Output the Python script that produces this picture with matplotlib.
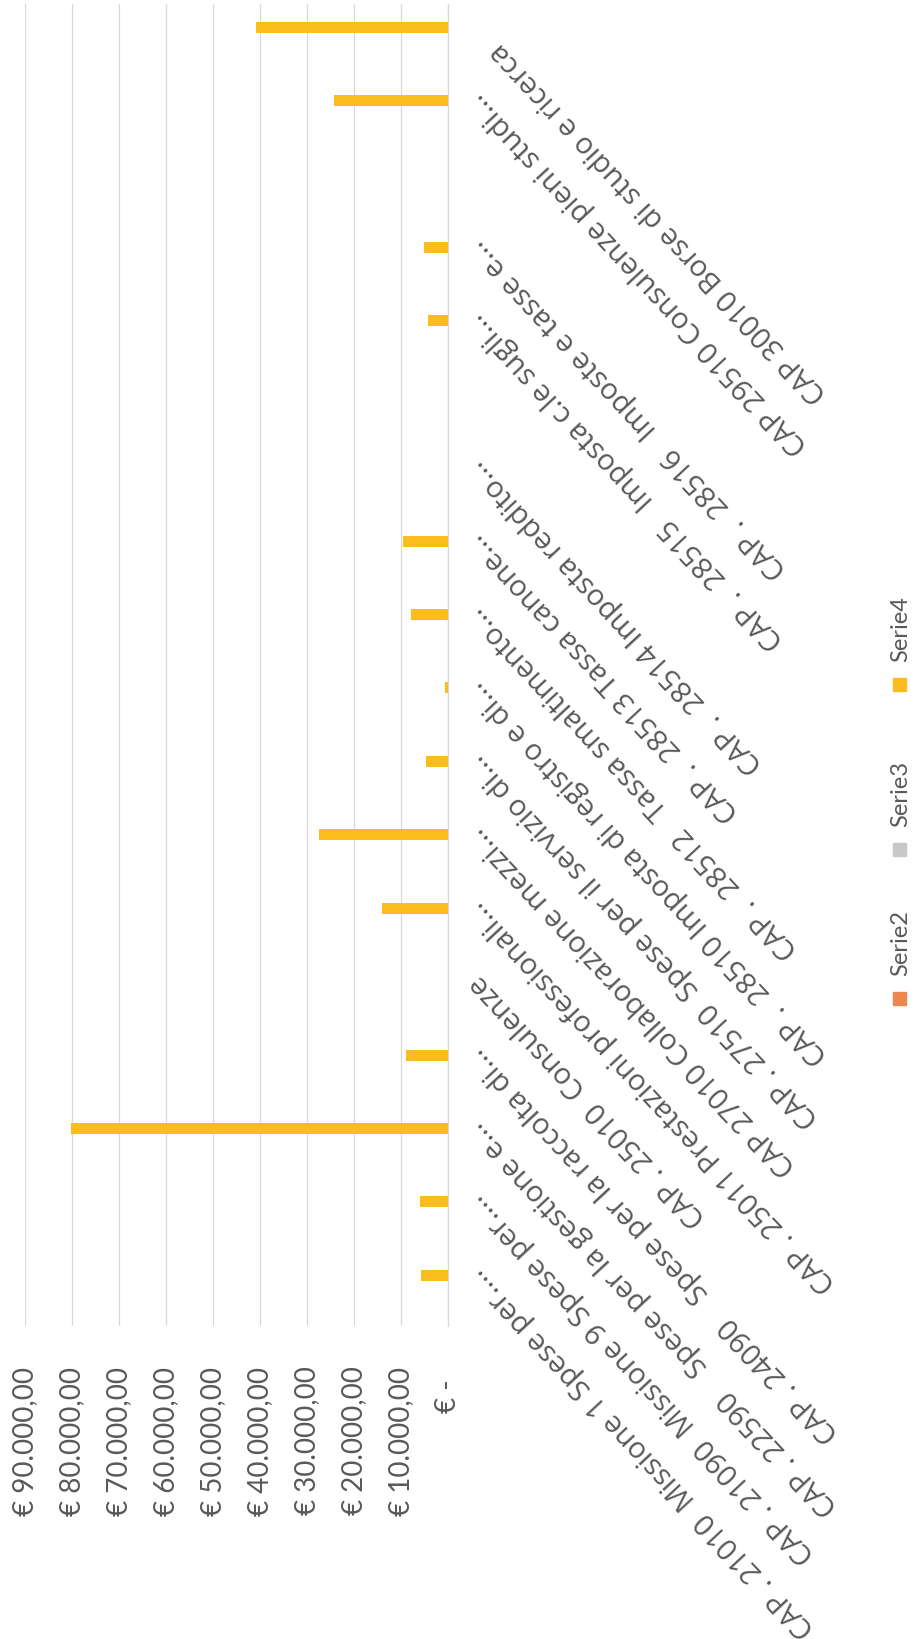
import numpy as np
import matplotlib
matplotlib.use("Agg")
import matplotlib.pyplot as plt
from matplotlib.patches import Rectangle
from matplotlib.transforms import ScaledTranslation

# ============================
# Spese per capitolo (grafico ruotato)
# ============================

plt.rcParams["font.family"] = ["Lato", "DejaVu Sans"]

# Categorie nell'ordine del foglio (dal basso verso l'alto)
categories = [
    "CAP . 21010  Missione 1 Spese per....",
    "CAP . 21090  Missione 9 Spese per....",
    "CAP . 22590    Spese per la gestione e...",
    "CAP . 24090    Spese per la raccolta di...",
    "CAP . 25010  Consulenze",
    "CAP . 25011 Prestazioni professionali...",
    "CAP 27010 Collaborazione mezzi...",
    "CAP . 27510  Spese per il servizio di...",
    "CAP .  28510 Imposta di registro e di...",
    "CAP .  28512   Tassa smaltimento...",
    "CAP .  28513 Tassa canone...",
    "CAP .  28514 Imposta reddito...",
    "",
    "CAP .  28515   Imposta c.le sugli...",
    "CAP .  28516   Imposte e tasse e...",
    "",
    "CAP 29510 Consulenze pieni studi...",
    "CAP 30010 Borse di studio e ricerca    ",
]

serie2 = [0] * 18
serie3 = [0] * 18
serie4 = [5700, 5900, 80300, 8900, 0, 14000, 27500, 4700, 600, 7900,
          9600, 0, 0, 4300, 5100, 0, 24300, 40800]

series_names = ["Serie2", "Serie3", "Serie4"]
series_colors = ["#EE8650", "#C8C8C8", "#FBBC1E"]

value_ticks = [0, 10000, 20000, 30000, 40000, 50000, 60000, 70000, 80000, 90000]
value_labels = ["€ -", "€ 10.000,00", "€ 20.000,00", "€ 30.000,00", "€ 40.000,00",
                "€ 50.000,00", "€ 60.000,00", "€ 70.000,00", "€ 80.000,00",
                "€ 90.000,00"]

# ----------------------------
# Figura
# ----------------------------
W, H = 915, 1640
fig = plt.figure(figsize=(W / 100, H / 100), dpi=100)
ax = fig.add_axes([25 / W, 1 - 1327 / H, (448 - 25) / W, (1327 - 5.4) / H])

y = np.arange(len(categories))
w = 0.19
for k, (vals, col) in enumerate(zip([serie2, serie3, serie4], series_colors)):
    ax.barh(y + (k - 1) * w, vals, height=0.15, color=col, zorder=3)

ax.set_ylim(-0.5, len(categories) - 0.5)
ax.set_xlim(90000, 0)

ax.set_xticks(value_ticks)
ax.set_xticklabels(value_labels, rotation=90, va="top", ha="center")
ax.tick_params(axis="x", length=0, pad=28.5, labelsize=20, labelcolor="#595959")
# "€ -" e' formattato con spazi finali: piu' lontano dall'asse
lbl0 = ax.get_xticklabels()[0]
lbl0.set_transform(lbl0.get_transform() + ScaledTranslation(0, -0.13, fig.dpi_scale_trans))

ax.yaxis.tick_right()
ax.set_yticks(y)
ax.set_yticklabels(categories)
ax.tick_params(axis="y", length=0, pad=19, labelsize=21, labelcolor="#595959")
shift = ScaledTranslation(0, 0.18, fig.dpi_scale_trans)
for lbl in ax.get_yticklabels():
    lbl.set_rotation(133)
    lbl.set_rotation_mode("anchor")
    lbl.set_ha("right")
    lbl.set_va("center")
    lbl.set_family(["Open Sans", "DejaVu Sans"])
    lbl.set_transform(lbl.get_transform() + shift)

ax.grid(axis="x", color="#D9D9D9", linewidth=0.9)
ax.set_axisbelow(True)
for side in ["top", "left", "bottom"]:
    ax.spines[side].set_visible(False)
ax.spines["right"].set_color("#D9D9D9")
ax.spines["right"].set_linewidth(0.9)

# ----------------------------
# Legenda (ruotata, a destra)
# ----------------------------
legend_y = [999, 850, 685]
for name, col, yc in zip(series_names, series_colors, legend_y):
    fig.patches.append(Rectangle(((899 - 6.5) / W, 1 - (yc + 6.5) / H), 13 / W, 13 / H,
                                 transform=fig.transFigure, color=col))
    fig.text(901 / W, 1 - (yc - 6.5 - 16) / H, name, rotation=90, ha="center",
             va="bottom", fontsize=17, color="#595959")

fig.savefig("out.png", dpi=100)
